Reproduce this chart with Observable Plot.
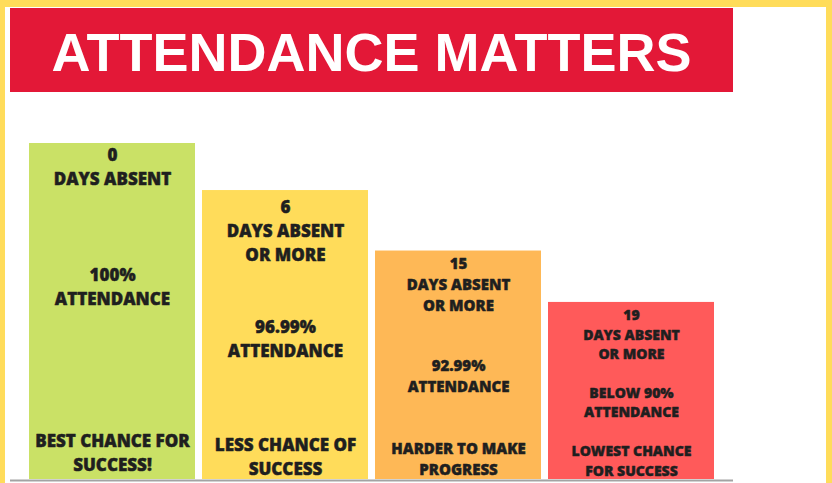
<!DOCTYPE html>
<html>
<head>
<meta charset="utf-8">
<script src="https://cdn.jsdelivr.net/npm/d3@7"></script>
<script src="https://cdn.jsdelivr.net/npm/@observablehq/plot@0.6"></script>
<style>
  html, body { margin: 0; padding: 0; background: #ffffff; }
  #frame { position: relative; width: 832px; height: 483px; background: #ffdc5a; overflow: hidden; }
  #inner { position: absolute; left: 5px; top: 7px; width: 821px; height: 476px; background: #ffffff; }
  #banner { position: absolute; left: 10px; top: 8px; width: 723px; height: 84px; background: #e31837;
            display: flex; align-items: center; justify-content: center; box-sizing: border-box; padding-top: 3px; }
  #banner h1 { margin: 0; font-family: "Liberation Sans", Arial, sans-serif; font-weight: 700; font-size: 54px;
               color: #ffffff; letter-spacing: 0px; line-height: 1; }
  #chart { position: absolute; left: 0; top: 92px; }
</style>
</head>
<body>
<div id="frame">
  <div id="inner"></div>
  <div id="banner"><h1>ATTENDANCE MATTERS</h1></div>
  <div id="chart"></div>
</div>
<script>
// ---- data ----
const categories = ["0 days", "6+ days", "15+ days", "19+ days"];
const daysAbsent = ["0", "6", "15", "19"];
const absenceLabels = ["DAYS ABSENT", "DAYS ABSENT\nOR MORE", "DAYS ABSENT\nOR MORE", "DAYS ABSENT\nOR MORE"];
const attendanceLabels = ["100%\nATTENDANCE", "96.99%\nATTENDANCE", "92.99%\nATTENDANCE", "BELOW 90%\nATTENDANCE"];
const outcomeLabels = ["BEST CHANCE FOR\nSUCCESS!", "LESS CHANCE OF\nSUCCESS", "HARDER TO MAKE\nPROGRESS", "LOWEST CHANCE\nFOR SUCCESS"];
const barHeights = [100, 86, 68, 52.7];
const barColors = ["#cae166", "#ffdc5a", "#feb856", "#ff5a5a"];

// ---- styles (per-bar text size and offsets in px) ----
const textStyle = [
  {fontSize: 17, top: 22, mid: 141.5, bottom: -28},
  {fontSize: 17, top: 39, mid: 146.5, bottom: -24.5},
  {fontSize: 15, top: 32, mid: 123.5, bottom: -21.5},
  {fontSize: 14, top: 31, mid: 99, bottom: -20}
];

const rows = categories.map((c, i) => ({
  category: c,
  height: barHeights[i],
  top: daysAbsent[i] + "\n" + absenceLabels[i],
  middle: attendanceLabels[i],
  bottom: outcomeLabels[i]
}));

const textCommon = {
  x: "category",
  lineAnchor: "middle",
  lineHeight: 1.4,
  fontWeight: 800,
  fontFamily: "'Open Sans', sans-serif",
  fill: "#1f1f1f",
  stroke: "#1f1f1f",
  strokeWidth: 0.45,
  textAnchor: "middle"
};

const textMarks = [];
rows.forEach((r, i) => {
  const s = textStyle[i];
  textMarks.push(Plot.text([r], {...textCommon, y: "height", text: "top", dy: s.top, fontSize: s.fontSize}));
  textMarks.push(Plot.text([r], {...textCommon, y: "height", text: "middle", dy: s.mid, fontSize: s.fontSize}));
  textMarks.push(Plot.text([r], {...textCommon, y: () => 0, text: "bottom", dy: s.bottom, fontSize: s.fontSize}));
});

const chart = Plot.plot({
  width: 832,
  height: 391,
  marginLeft: 28,
  marginRight: 116,
  marginTop: 0,
  marginBottom: 4,
  style: {background: "transparent", overflow: "visible"},
  x: {domain: categories, range: [28, 716], paddingInner: 0.04, paddingOuter: 0, axis: null},
  y: {domain: [0, 100], range: [387, 51], axis: null},
  color: {domain: categories, range: barColors},
  marks: [
    Plot.barY(rows, {x: "category", y: "height", fill: "category"}),
    Plot.ruleY([0], {stroke: "#a3a3a3", strokeWidth: 2, dy: 1, insetLeft: -18, insetRight: -17}),
    ...textMarks
  ]
});
document.getElementById("chart").appendChild(chart);
</script>
</body>
</html>
